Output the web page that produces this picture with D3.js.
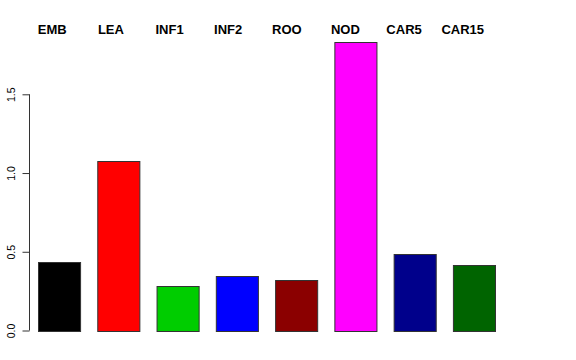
<!DOCTYPE html>
<html lang="en">
<head>
    <meta charset="UTF-8">
    <script src="https://cdnjs.cloudflare.com/ajax/libs/d3/7.8.5/d3.min.js"></script>
    <title>Bar chart</title>
    <style>
        body { margin: 0; background: white; }
        svg { display: block; font-family: 'Liberation Sans', Arial, sans-serif; }
    </style>
</head>
<body>
<svg></svg>
<script>
    const tissues = ['EMB', 'LEA', 'INF1', 'INF2', 'ROO', 'NOD', 'CAR5', 'CAR15']
    const values = [0.438, 1.079, 0.284, 0.345, 0.319, 1.83, 0.484, 0.415]
    const barColors = ['#000000', '#ff0000', '#00cd00', '#0000ff', '#8b0000', '#ff00ff', '#00008b', '#006400']
    const yTicks = [0, 0.5, 1, 1.5]

    const w = 576, h = 360

    const svg = d3.select('svg')
        .attr('width', w)
        .attr('height', h)

    const xScale = d3.scaleBand()
        .domain(tissues)
        .range([38, 495])
        .paddingInner(0.29)
        .paddingOuter(0)

    // labels sit a bit left of the bars, with a slightly tighter pitch
    const labelScale = d3.scalePoint()
        .domain(tissues)
        .range([52.3, 462.7])

    const yScale = d3.scaleLinear()
        .domain([0, 1.5])
        .range([330.5, 94.3])

    // bars
    svg.selectAll('rect.bar')
        .data(values)
        .enter()
        .append('rect')
        .attr('class', 'bar')
        .attr('x', (d, i) => xScale(tissues[i]) + 0.5)
        .attr('y', (d) => Math.round(yScale(d)) + 0.5)
        .attr('width', xScale.bandwidth())
        .attr('height', (d) => Math.round(yScale(0)) - Math.round(yScale(d)))
        .attr('fill', (d, i) => barColors[i])
        .attr('stroke', '#333')
        .attr('stroke-width', 1)

    // category labels on top
    svg.selectAll('text.lab')
        .data(tissues)
        .enter()
        .append('text')
        .attr('class', 'lab')
        .attr('x', (d) => labelScale(d))
        .attr('y', 34)
        .attr('text-anchor', 'middle')
        .style('font-weight', 'bold')
        .style('font-size', '13px')
        .text((d) => d)

    // y axis, R style
    const yAxis = d3.axisLeft(yScale)
        .tickValues(yTicks)
        .tickFormat(d3.format('.1f'))
        .tickSize(7)
        .tickSizeOuter(0)

    const gy = svg.append('g')
        .attr('transform', 'translate(29.5,0)')
        .call(yAxis)

    gy.select('.domain')
        .attr('d', 'M0,' + yScale(0) + 'V' + yScale(1.5))
        .attr('stroke', '#333')
    gy.selectAll('.tick line').attr('stroke', '#333')
    gy.selectAll('.tick text')
        .attr('transform', 'rotate(-90)')
        .attr('x', 0)
        .attr('y', -15)
        .attr('dy', 0)
        .attr('text-anchor', 'middle')
        .style('font-size', '10.5px')
        .style('font-family', "'Liberation Sans', Arial, sans-serif")
        .attr('fill', '#000')
</script>
</body>
</html>
